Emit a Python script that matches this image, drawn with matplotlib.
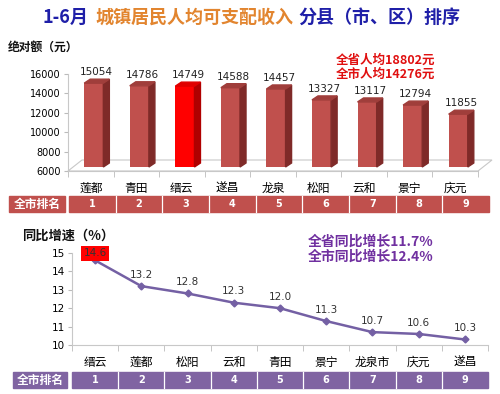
import matplotlib.pyplot as plt
from matplotlib.patches import Polygon, Rectangle

plt.rcParams['font.family'] = ['Noto Sans CJK SC', 'DejaVu Sans']

# data
income_towns = ['莲都', '青田', '缙云', '遂昌', '龙泉', '松阳', '云和', '景宁', '庆元']
income = [15054, 14786, 14749, 14588, 14457, 13327, 13117, 12794, 11855]
growth_towns = ['缙云', '莲都', '松阳', '云和', '青田', '景宁', '龙泉市', '庆元', '遂昌']
growth = [14.6, 13.2, 12.8, 12.3, 12.0, 11.3, 10.7, 10.6, 10.3]
ranks = ['1', '2', '3', '4', '5', '6', '7', '8', '9']

W, H = 500, 394
fig = plt.figure(figsize=(5, 3.94), dpi=100)

def fx(px):
    return px / W

def fy(py):
    return 1 - py / H

# ---------- top bar chart ----------
ax1 = fig.add_axes([fx(68), fy(171), fx(478) - fx(68), fy(74) - fy(171)])
ax1.set_xlim(-0.5, 8.5)
ax1.set_ylim(6000, 16000)
xpp = 9 / 410.0        # data units per pixel
ypp = 10000 / 97.0

# floor
fl = Polygon([(-0.5, 6000), (8.5, 6000), (8.5 + 14 * xpp, 6000 + 11 * ypp),
              (-0.5 + 14 * xpp, 6000 + 11 * ypp)], closed=True, fill=False,
             edgecolor='#c8c8c8', lw=0.8, clip_on=False)
ax1.add_patch(fl)

bw = 0.42
ox, oy = 3 * xpp, 4 * ypp       # bar front offset into floor
dx, dy = 6 * xpp, 4 * ypp       # bar depth
base = 6000 + oy
for i, v in enumerate(income):
    if i == 2:
        front, side, top = '#ff0000', '#b00000', '#e00000'
    else:
        front, side, top = '#c0504d', '#7f2a28', '#a03e3b'
    xl = i - bw / 2 + ox
    xr = i + bw / 2 + ox
    ax1.bar(i + ox, v - base, bottom=base, width=bw, color=front, zorder=3)
    ax1.add_patch(Polygon([(xr, base), (xr + dx, base + dy), (xr + dx, v + dy), (xr, v)],
                          closed=True, color=side, zorder=3, clip_on=False))
    ax1.add_patch(Polygon([(xl, v), (xr, v), (xr + dx, v + dy), (xl + dx, v + dy)],
                          closed=True, color=top, zorder=3, clip_on=False))
    ax1.text(i + ox + dx / 2, v + dy + 2 * ypp, str(v), ha='center', va='bottom',
             fontsize=7.5, color='#222222', family='DejaVu Sans')

ax1.set_yticks(range(6000, 16001, 2000))
ax1.tick_params(axis='y', labelsize=7, length=3, color='#bbbbbb', pad=2)
for t in ax1.get_yticklabels():
    t.set_family('DejaVu Sans')
ax1.set_xticks(range(9))
ax1.set_xticklabels(income_towns, fontsize=8.5)
ax1.tick_params(axis='x', length=0, pad=8)
ax1.set_xticks([i + 0.5 for i in range(-1, 9)], minor=True)
ax1.tick_params(axis='x', which='minor', length=4, color='#bbbbbb')
for s in ['top', 'right']:
    ax1.spines[s].set_visible(False)
ax1.spines['left'].set_color('#c8c8c8')
ax1.spines['bottom'].set_color('#c8c8c8')
ax1.patch.set_alpha(0)

# ---------- bottom line chart ----------
ax2 = fig.add_axes([fx(72), fy(345), fx(488) - fx(72), fy(253) - fy(345)])
ax2.set_xlim(-0.5, 8.5)
ax2.set_ylim(10, 15)
ax2.plot(range(9), growth, color='#7460a4', lw=1.8, marker='D', ms=3.5, zorder=3)
for i, v in enumerate(growth):
    if i == 0:
        ax2.text(i, v + 0.12, f'{v:.1f}', ha='center', va='bottom', fontsize=7.5,
                 color='#333333', family='DejaVu Sans',
                 bbox=dict(boxstyle='square,pad=0.25', fc='#ff0000', ec='none'), zorder=4)
    else:
        ax2.text(i, v + 0.35, f'{v:.1f}', ha='center', va='bottom', fontsize=7.5,
                 color='#333333', family='DejaVu Sans')
ax2.set_yticks(range(10, 16))
ax2.tick_params(axis='y', labelsize=7.5, length=3, color='#bbbbbb', pad=2)
for t in ax2.get_yticklabels():
    t.set_family('DejaVu Sans')
ax2.set_xticks(range(9))
ax2.set_xticklabels(growth_towns, fontsize=8.5)
ax2.tick_params(axis='x', length=0, pad=8)
ax2.set_xticks([i + 0.5 for i in range(-1, 9)], minor=True)
ax2.tick_params(axis='x', which='minor', length=4, color='#bbbbbb')
for s in ['top', 'right']:
    ax2.spines[s].set_visible(False)
ax2.spines['left'].set_color('#c8c8c8')
ax2.spines['bottom'].set_color('#c8c8c8')
ax2.patch.set_alpha(0)

# ---------- overlay for titles and rank rows ----------
bg = fig.add_axes([0, 0, 1, 1], zorder=-1)
bg.set_xlim(0, W)
bg.set_ylim(H, 0)
bg.axis('off')

bg.text(42, 17, '1-6月', color='#1f1fa8', fontsize=13, fontweight='bold', va='center')
bg.text(95, 17, '城镇居民人均可支配收入', color='#e2852f', fontsize=13, fontweight='bold', va='center')
bg.text(298, 17, '分县（市、区）排序', color='#1f1fa8', fontsize=13, fontweight='bold', va='center')

bg.text(8, 47, '绝对额（元）', fontsize=8.5, fontweight='bold', va='center', color='#111111')
bg.text(386, 60, '全省人均18802元', fontsize=9, fontweight='bold', color='#e01010', ha='center', va='center')
bg.text(386, 74, '全市人均14276元', fontsize=9, fontweight='bold', color='#e01010', ha='center', va='center')

bg.text(22, 236, '同比增速（%）', fontsize=9.5, fontweight='bold', va='center', color='#111111')
bg.text(371, 242, '全省同比增长11.7%', fontsize=10, fontweight='bold', color='#7030a0', ha='center', va='center')
bg.text(371, 257, '全市同比增长12.4%', fontsize=10, fontweight='bold', color='#7030a0', ha='center', va='center')


def rank_row(x0, x1, y0, y1, lx0, lx1, color):
    bg.add_patch(Rectangle((lx0, y0), lx1 - lx0, y1 - y0, color=color))
    bg.text((lx0 + lx1) / 2, (y0 + y1) / 2, '全市排名', color='white', fontsize=8.5,
            fontweight='bold', ha='center', va='center')
    bg.add_patch(Rectangle((x0, y0), x1 - x0, y1 - y0, color=color))
    cw = (x1 - x0) / 9.0
    for i in range(1, 9):
        bg.plot([x0 + i * cw] * 2, [y0, y1], color='white', lw=0.9)
    for i, r in enumerate(ranks):
        bg.text(x0 + (i + 0.5) * cw, (y0 + y1) / 2, r, color='white', fontsize=7,
                fontweight='bold', ha='center', va='center', family='DejaVu Sans')


rank_row(69, 489, 196, 212, 9, 65, '#c0504d')
rank_row(72, 488, 372, 388, 13, 67, '#8064a2')

fig.savefig('out.png', dpi=100)
